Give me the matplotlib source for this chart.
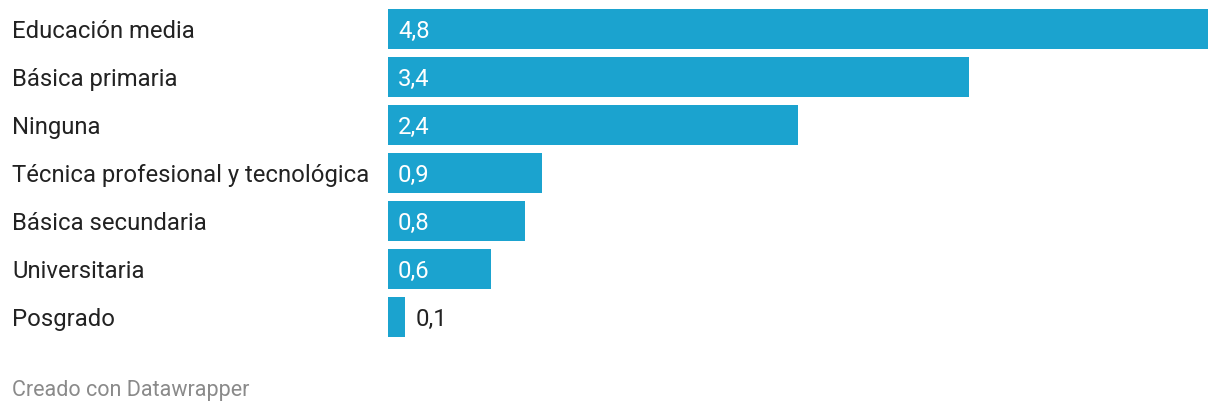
#!/usr/bin/env python3
"""Horizontal bar chart: nivel educativo (Datawrapper style)."""

import matplotlib
matplotlib.use("Agg")
matplotlib.rcParams.update({
    "font.family": ["Roboto", "DejaVu Sans"],
})

import matplotlib.pyplot as plt
from matplotlib.transforms import blended_transform_factory, ScaledTranslation

categories = [
    "Educación media",
    "Básica primaria",
    "Ninguna",
    "Técnica profesional y tecnológica",
    "Básica secundaria",
    "Universitaria",
    "Posgrado",
]
values = [4.8, 3.4, 2.4, 0.9, 0.8, 0.6, 0.1]
value_labels = ["4,8", "3,4", "2,4", "0,9", "0,8", "0,6", "0,1"]

C_BAR = "#1ba3cf"
C_TEXT = "#222222"
C_FOOT = "#8a8a8a"
FS = 17.2

W, H = 1220, 414
fig = plt.figure(figsize=(W / 100, H / 100), dpi=100)
fig.patch.set_facecolor("white")

# axes placed in pixel terms: bars start at x=388, 4.8 reaches x=1208
ax = fig.add_axes([388 / W, 1 - 342 / H, 820 / W, 336 / H])
ax.set_xlim(0, 4.8)
ax.set_ylim(len(categories) - 0.5, -0.5)
ax.axis("off")

ypos = list(range(len(categories)))
ax.barh(ypos, values, height=40 / 48, color=C_BAR, linewidth=0)

# nudge text down ~1.5 px so it sits like the original
down = ScaledTranslation(0, -1.5 / 100, fig.dpi_scale_trans)
trans = blended_transform_factory(fig.transFigure, ax.transData) + down
for y, cat in zip(ypos, categories):
    ax.text(12 / W, y, cat, transform=trans, ha="left", va="center",
            fontsize=FS, color=C_TEXT)

for y, v, lab in zip(ypos, values, value_labels):
    if v >= 0.3:
        ax.annotate(lab, (0, y), xytext=(10, -1.5), textcoords="offset pixels",
                    ha="left", va="center", fontsize=FS, color="white")
    else:
        ax.annotate(lab, (v, y), xytext=(11, -1.5), textcoords="offset pixels",
                    ha="left", va="center", fontsize=FS, color=C_TEXT)

fig.text(12 / W, 1 - 391 / H, "Creado con Datawrapper", ha="left", va="center",
         fontsize=15.5, color=C_FOOT)

fig.savefig("out.png", dpi=100, facecolor="white")
